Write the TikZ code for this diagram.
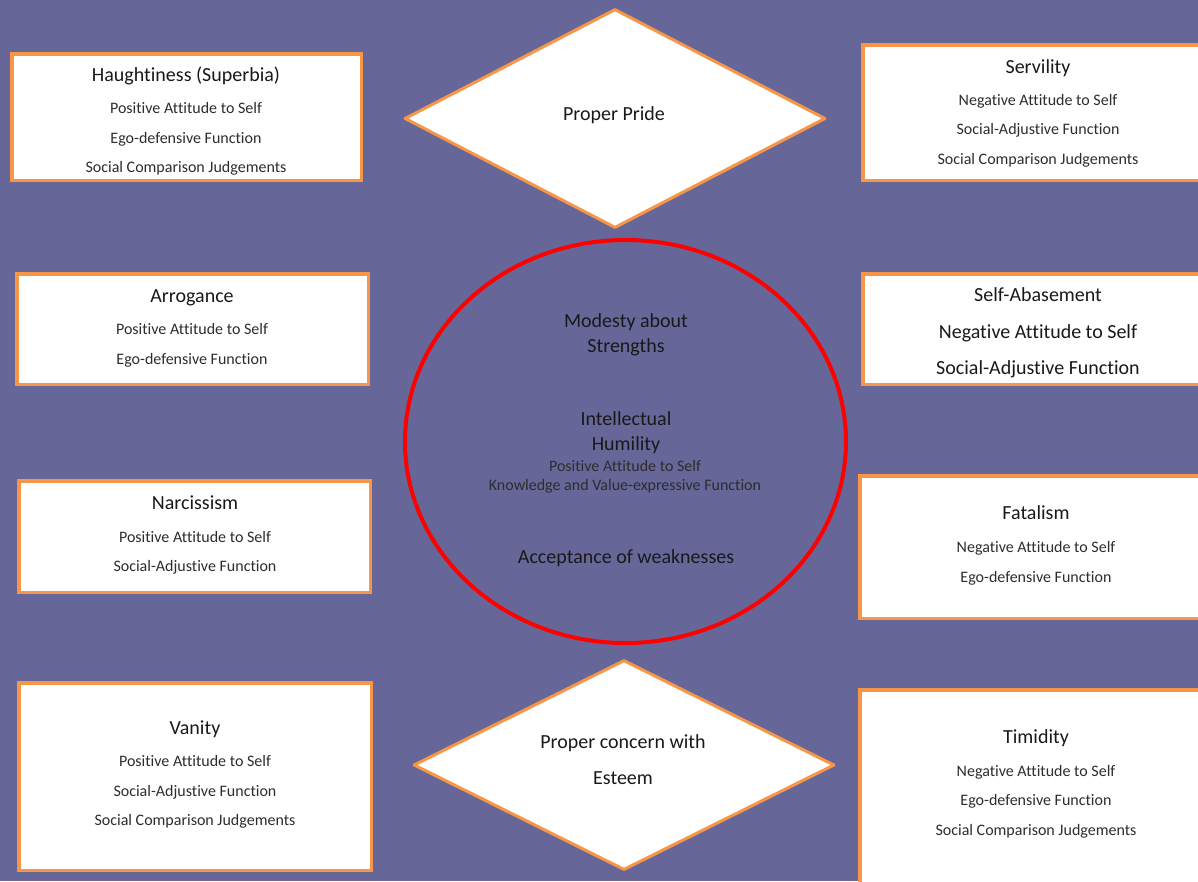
\documentclass[tikz,border=0pt]{standalone}
\usepackage{fontspec}
\setmainfont{Carlito}[Ligatures=NoCommon]
\usetikzlibrary{shapes.geometric}
\definecolor{bg}{RGB}{102,102,153}
\definecolor{orng}{RGB}{247,150,70}
\definecolor{txt}{RGB}{25,25,25}
\definecolor{txtb}{RGB}{45,45,45}
\begin{document}
\begin{tikzpicture}[x=1pt,y=-1pt,
  box/.style={draw=orng, line width=3.5pt, fill=white, rectangle, inner sep=0pt},
  dia/.style={draw=orng, line width=3pt, fill=white, diamond, inner sep=0pt, line join=round},
  ttl/.style={inner sep=0pt, text=txt, font=\fontsize{20}{24}\selectfont, text height=14pt, text depth=4pt, yshift=-2.3pt},
  det/.style={inner sep=0pt, text=txtb, font=\fontsize{16}{19}\selectfont, text height=11.2pt, text depth=3.2pt, yshift=-2.3pt},
  ell/.style={draw=red, line width=4pt, ellipse, inner sep=0pt}]
\useasboundingbox (0,0) rectangle (1198,881);
\clip (0,0) rectangle (1198,881);
\fill[bg] (0,0) rectangle (1198,881);

% boxes
\node[box, minimum width=349.5pt, minimum height=126.5pt] (hau) at (186.5,117) {};
\node[box, minimum width=345.5pt, minimum height=135.5pt] (ser) at (1035.5,112.5) {};
\node[box, minimum width=351.5pt, minimum height=110.5pt] (arr) at (192.5,329) {};
\node[box, minimum width=345.5pt, minimum height=110.5pt] (sab) at (1035.5,329) {};
\node[box, minimum width=351.5pt, minimum height=111.5pt] (nar) at (194.5,536.5) {};
\node[box, minimum width=348.5pt, minimum height=142.5pt] (fat) at (1034,547) {};
\node[box, minimum width=352.5pt, minimum height=187.5pt] (van) at (195,776.5) {};
\node[box, minimum width=348.5pt, minimum height=203.5pt] (tim) at (1034,791.5) {};

% box texts
\node[ttl] (hau1) at (186,74) {Haughtiness (Superbia)};
\node[det] (hau2) at (186,107) {Positive Attitude to Self};
\node[det] (hau3) at (186,137) {Ego-defensive Function};
\node[det] (hau4) at (186,166) {Social Comparison Judgements};

\node[ttl] (ser1) at (1038,66) {Servility};
\node[det] (ser2) at (1038,99) {Negative Attitude to Self};
\node[det] (ser3) at (1038,128) {Social-Adjustive Function};
\node[det] (ser4) at (1038,158) {Social Comparison Judgements};

\node[ttl] (arr1) at (192,295) {Arrogance};
\node[det] (arr2) at (192,328) {Positive Attitude to Self};
\node[det] (arr3) at (192,358) {Ego-defensive Function};

\node[ttl] (sab1) at (1038,294) {Self-Abasement};
\node[ttl] (sab2) at (1038,331) {Negative Attitude to Self};
\node[ttl] (sab3) at (1038,367) {Social-Adjustive Function};

\node[ttl] (nar1) at (195,502) {Narcissism};
\node[det] (nar2) at (195,536) {Positive Attitude to Self};
\node[det] (nar3) at (195,565) {Social-Adjustive Function};

\node[ttl] (fat1) at (1036,512) {Fatalism};
\node[det] (fat2) at (1036,546) {Negative Attitude to Self};
\node[det] (fat3) at (1036,576) {Ego-defensive Function};

\node[ttl] (van1) at (195,727) {Vanity};
\node[det] (van2) at (195,760) {Positive Attitude to Self};
\node[det] (van3) at (195,790) {Social-Adjustive Function};
\node[det] (van4) at (195,819) {Social Comparison Judgements};

\node[ttl] (tim1) at (1036,736) {Timidity};
\node[det] (tim2) at (1036,770) {Negative Attitude to Self};
\node[det] (tim3) at (1036,799) {Ego-defensive Function};
\node[det] (tim4) at (1036,829) {Social Comparison Judgements};

% diamonds
\node[dia, minimum width=421pt, minimum height=219pt] (pp) at (615,118.5) {};
\node[ttl] (pp1) at (614,113) {Proper Pride};
\node[dia, minimum width=421pt, minimum height=210pt] (pc) at (624,765) {};
\node[ttl] (pc1) at (623,741) {Proper concern with};
\node[ttl] (pc2) at (623,777) {Esteem};

% ellipse
\node[ell, minimum width=441pt, minimum height=403pt] (hum) at (625.5,441.5) {};
\node[ttl] (h1) at (626,320) {Modesty about};
\node[ttl] (h2) at (626,345) {Strengths};
\node[ttl] (h3) at (626,418) {Intellectual};
\node[ttl] (h4) at (626,443) {Humility};
\node[det] (h5) at (625,465) {Positive Attitude to Self};
\node[det] (h6) at (625,484) {Knowledge and Value-expressive Function};
\node[ttl] (h7) at (626,556) {Acceptance of weaknesses};
\end{tikzpicture}
\end{document}
